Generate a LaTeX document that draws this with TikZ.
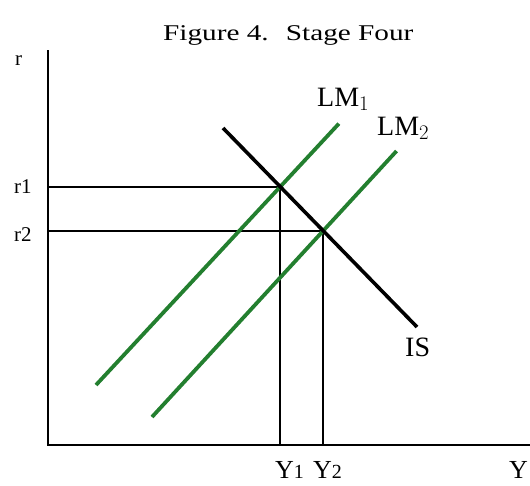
\documentclass[tikz,border=0pt]{standalone}
\usepackage{fontspec}
\setmainfont{Liberation Serif}
\newfontfamily\widefont{Liberation Serif}[FakeStretch=1.3]
\usetikzlibrary{positioning,calc}

\begin{document}
\begin{tikzpicture}[x=1pt,y=-1pt,font=\fontsize{28}{32}\selectfont,
  axis/.style={line width=2pt,draw=black},
  guide/.style={line width=2pt,draw=black},
  lm/.style={line width=3.8pt,draw=lmgreen},
  iscurve/.style={line width=3.6pt,draw=black},
  lbl/.style={inner sep=0pt,anchor=base west},
  small/.style={lbl,font=\fontsize{21}{24}\selectfont},
  ttl/.style={lbl,font=\widefont\fontsize{22.5}{26}\selectfont}]
\definecolor{lmgreen}{HTML}{237F2F}
\useasboundingbox (0,0) rectangle (530,485);
% axes
\coordinate (origin) at (48,445);
\coordinate (ytop) at (48,50);
\coordinate (xend) at (530,445);
\draw[axis] (ytop) -- (origin) -- (xend);
% equilibria
\coordinate (eqA) at (280,187);
\coordinate (eqB) at (323,231);
% curves
\coordinate (lmAlo) at (96,385);
\coordinate (lmAhi) at ($(lmAlo)!1.32!(eqA)$);
\coordinate (lmBlo) at (152,417);
\coordinate (lmBhi) at ($(lmBlo)!1.43!(eqB)$);
\coordinate (ishi) at (223,128);
\coordinate (islo) at (417,327);
% guide lines
\draw[guide] (eqA -| origin) -- (eqA) -- (eqA |- origin);
\draw[guide] (eqB -| origin) -- (eqB) -- (eqB |- origin);
\draw[lm] (lmAlo) -- (lmAhi);
\draw[lm] (lmBlo) -- (lmBhi);
\draw[iscurve] (ishi) -- (islo);
% labels
\node[ttl] (title) at (163,40) {Figure 4.~ Stage Four};
\node[small] (rlab) at (15,65) {r};
\node[small] (rA) at (14,193) {r1};
\node[small] (rB) at (14,241) {r2};
\node[lbl,font=\fontsize{26}{30}\selectfont] (yA) at (275,478) {Y{\fontsize{20}{24}\selectfont 1}};
\node[lbl,font=\fontsize{26}{30}\selectfont] (yB) at (313,478) {Y{\fontsize{20}{24}\selectfont 2}};
\node[lbl,font=\fontsize{26}{30}\selectfont] (ylab) at (509,478) {Y};
\node[lbl] (lmAlab) at (317,106) {LM$_1$};
\node[lbl] (lmBlab) at (377,135) {LM$_2$};
\node[lbl] (islab) at (405,356) {IS};
\end{tikzpicture}
\end{document}
